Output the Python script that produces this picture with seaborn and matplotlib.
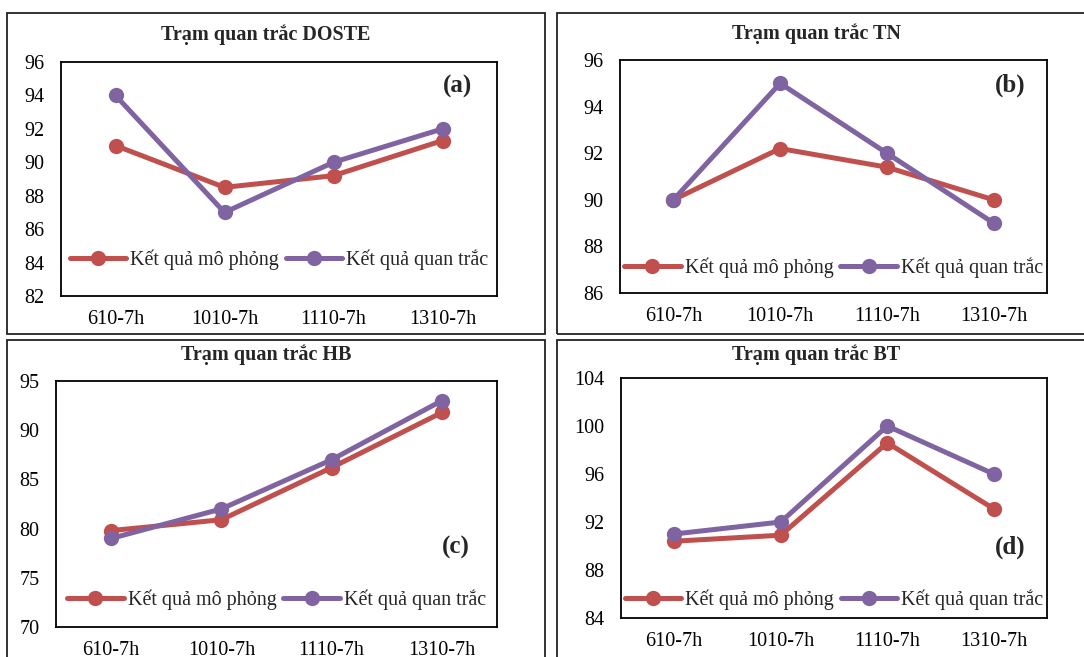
import matplotlib
matplotlib.use("Agg")
import matplotlib.pyplot as plt
from matplotlib.patches import Rectangle
import seaborn as sns

times = ["610-7h", "1010-7h", "1110-7h", "1310-7h"]

doste_sim = [91.0, 88.5, 89.2, 91.3]
doste_obs = [94.0, 87.0, 90.0, 92.0]
tn_sim = [90.0, 92.2, 91.4, 90.0]
tn_obs = [90.0, 95.0, 92.0, 89.0]
hb_sim = [79.8, 80.9, 86.2, 91.8]
hb_obs = [79.0, 82.0, 87.0, 93.0]
bt_sim = [90.4, 90.9, 98.6, 93.1]
bt_obs = [91.0, 92.0, 100.0, 96.0]

sim_label = "Kết quả mô phỏng"
obs_label = "Kết quả quan trắc"
red = "#C0504D"
purple = "#8064A2"

sns.set_style("white")
plt.rcParams["font.family"] = ["Liberation Serif", "DejaVu Serif"]

W, H = 1084, 657
fig = plt.figure(figsize=(W / 100, H / 100), dpi=100)


def px_box(l, t, r, b):
    return [l / W, 1 - b / H, (r - l) / W, (b - t) / H]


# panel frames
for l, t, r, b in [(7, 13, 545, 334), (557, 13, 1095, 334),
                   (7, 340, 545, 670), (557, 340, 1095, 670)]:
    fig.patches.append(Rectangle((l / W, 1 - b / H), (r - l) / W, (b - t) / H,
                                 transform=fig.transFigure, fill=False,
                                 edgecolor="#222222", linewidth=1.3))

panels = [
    dict(box=(61, 62, 497, 296), title="Trạm quan trắc DOSTE", tpos=(266, 35),
         sim=doste_sim, obs=doste_obs, ylim=(82, 96), step=2,
         tag="(a)", tagpos=(457, 86), legy=0.154),
    dict(box=(620, 60, 1047, 293), title="Trạm quan trắc TN", tpos=(816, 34),
         sim=tn_sim, obs=tn_obs, ylim=(86, 96), step=2,
         tag="(b)", tagpos=(1010, 85), legy=0.107),
    dict(box=(56, 381, 497, 627), title="Trạm quan trắc HB", tpos=(266, 355),
         sim=hb_sim, obs=hb_obs, ylim=(70, 95), step=5,
         tag="(c)", tagpos=(456, 547), legy=0.11),
    dict(box=(621, 378, 1047, 618), title="Trạm quan trắc BT", tpos=(816, 355),
         sim=bt_sim, obs=bt_obs, ylim=(84, 104), step=4,
         tag="(d)", tagpos=(1010, 547), legy=0.075),
]

for p in panels:
    ax = fig.add_axes(px_box(*p["box"]))
    sns.lineplot(x=times, y=p["sim"], ax=ax, color=red, marker="o",
                 markersize=11, linewidth=3.6, markeredgewidth=0, label=sim_label)
    sns.lineplot(x=times, y=p["obs"], ax=ax, color=purple, marker="o",
                 markersize=11, linewidth=3.6, markeredgewidth=0, label=obs_label)
    ax.set_xlim(-0.5, 3.5)
    lo, hi = p["ylim"]
    ax.set_ylim(lo, hi)
    ax.set_yticks(range(lo, hi + 1, p["step"]))
    ax.set_xlabel("")
    ax.set_ylabel("")
    ax.tick_params(axis="y", labelsize=14.5, pad=12, length=0, labelcolor="black")
    ax.tick_params(axis="x", labelsize=14.5, pad=10, length=0, labelcolor="black")
    for s in ax.spines.values():
        s.set_color("black")
        s.set_linewidth(1.3)
    handles, labels = ax.get_legend_handles_labels()
    ax.legend(handles, labels, loc="center", bbox_to_anchor=(0.5, p["legy"]),
              ncol=2, frameon=False, fontsize=14.5, handlelength=2.8,
              handletextpad=0.2, columnspacing=0.35, borderaxespad=0)
    tx, ty = p["tpos"]
    fig.text(tx / W, 1 - ty / H, p["title"], ha="center", va="center",
             fontsize=14.5, fontweight="bold")
    gx, gy = p["tagpos"]
    fig.text(gx / W, 1 - gy / H, p["tag"], ha="center", va="center",
             fontsize=18, fontweight="bold")

fig.savefig("out.png", dpi=100)
